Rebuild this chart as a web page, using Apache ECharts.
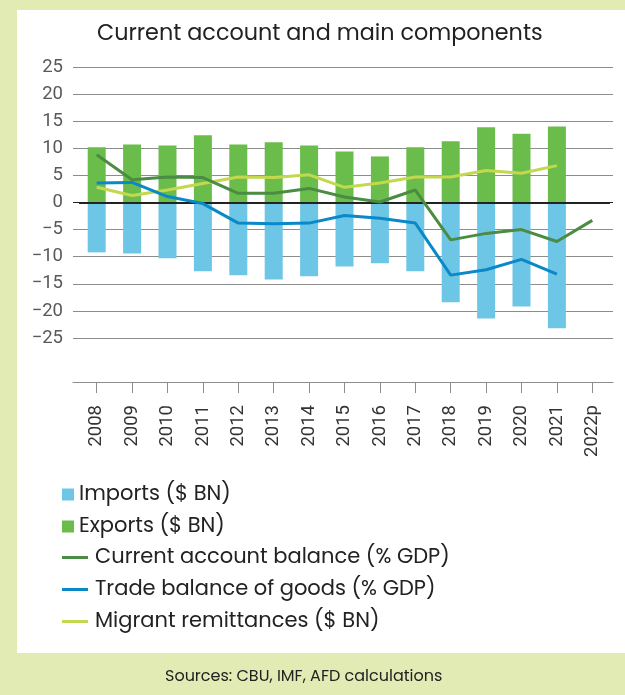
<!DOCTYPE html>
<html>
<head>
<meta charset="utf-8">
<script src="https://cdn.jsdelivr.net/npm/echarts@6/dist/echarts.min.js"></script>
<style>
html,body{margin:0;padding:0;background:#e3ebb4;}
#c{width:625px;height:695px;}
</style>
</head>
<body>
<div id="c"></div>
<script>
var years = ['2008','2009','2010','2011','2012','2013','2014','2015','2016','2017','2018','2019','2020','2021','2022p'];
var imports = [-9.2,-9.4,-10.3,-12.7,-13.4,-14.2,-13.6,-11.8,-11.2,-12.7,-18.4,-21.4,-19.2,-23.2,null];
var exportsV = [10.2,10.7,10.5,12.4,10.7,11.1,10.5,9.4,8.5,10.2,11.3,13.9,12.7,14.0,null];
var currentAccount = [8.8,4.2,4.7,4.6,1.7,1.7,2.6,1.0,0.1,2.3,-6.9,-5.7,-5.0,-7.2,-3.3];
var tradeBalance = [3.6,3.7,1.1,-0.2,-3.8,-3.9,-3.8,-2.4,-2.9,-3.8,-13.4,-12.4,-10.5,-13.2,null];
var remittances = [2.8,1.3,2.3,3.5,4.7,4.6,5.1,2.8,3.6,4.7,4.7,5.9,5.4,6.8,null];
var yTicks = {min:-25, max:25, interval:5};

var FONT = 'Poppins, "Open Sans", sans-serif';
var gridColors = [];
for (var v = yTicks.min; v <= yTicks.max; v += yTicks.interval) gridColors.push(v === 0 ? '#222222' : '#8c8c8c');

var chart = echarts.init(document.getElementById('c'), null, {renderer:'canvas'});
chart.setOption({
  backgroundColor: '#e3ebb4',
  animation: false,
  graphic: [{type:'rect', shape:{x:17, y:10, width:608, height:643}, style:{fill:'#ffffff'}, z:-10, silent:true}],
  title: [
    {text:'Current account and main components', left:92, top:18, textStyle:{fontFamily:FONT, fontSize:22.3, fontWeight:'normal', color:'#222'}},
    {text:'Sources: CBU, IMF, AFD calculations', left:160, top:664, textStyle:{fontFamily:FONT, fontSize:16, fontWeight:'normal', color:'#222'}}
  ],
  legend: [
    {data:['Imports ($ BN)','Exports ($ BN)'], orient:'vertical', left:57, top:479, icon:'rect', itemWidth:12, itemHeight:12, itemGap:11,
     textStyle:{fontFamily:FONT, fontSize:21, color:'#222', lineHeight:21}},
    {data:['Current account balance (% GDP)','Trade balance of goods (% GDP)','Migrant remittances ($ BN)'], orient:'vertical', left:57, top:542, icon:'rect', itemWidth:26, itemHeight:3, itemGap:11,
     textStyle:{fontFamily:FONT, fontSize:21, color:'#222', lineHeight:21, padding:[0,0,0,2]}}
  ],
  grid: [
    {left:73, width:540, top:67, height:271},
    {left:79, right:15, top:67, height:271}
  ],
  xAxis: [
    {type:'value', gridIndex:0, min:0, max:1, offset:44,
     axisLine:{show:true, onZero:false, lineStyle:{color:'#8c8c8c', width:1}}, axisTick:{show:false}, axisLabel:{show:false}, splitLine:{show:false}},
    {type:'category', gridIndex:1, data:years, offset:44, boundaryGap:true,
     axisLine:{show:false, onZero:false}, axisTick:{show:true, alignWithLabel:true, length:11, lineStyle:{color:'#8c8c8c'}},
     axisLabel:{rotate:90, margin:23, fontFamily:'Roboto, sans-serif', fontSize:18.5, color:'#333'}}
  ],
  yAxis: [
    {type:'value', gridIndex:0, min:yTicks.min, max:yTicks.max, interval:yTicks.interval,
     axisLine:{show:false}, axisTick:{show:false},
     axisLabel:{margin:10, fontFamily:'Roboto, sans-serif', fontSize:18.5, color:'#595959', formatter:function(v){return String(v).replace('-','\u2212');}},
     splitLine:{show:true, lineStyle:{color:gridColors, width:1}}},
    {type:'value', gridIndex:1, min:yTicks.min, max:yTicks.max, show:false, splitLine:{show:false}}
  ],
  series: [
    {name:'Imports ($ BN)', type:'bar', xAxisIndex:1, yAxisIndex:1, data:imports, barWidth:18, barGap:'-100%', itemStyle:{color:'#6ec6e6'},
     markLine:{silent:true, symbol:['none','none'], label:{show:false}, lineStyle:{color:'#222', width:2, type:'solid'}, data:[{yAxis:0}]}},
    {name:'Exports ($ BN)', type:'bar', xAxisIndex:1, yAxisIndex:1, data:exportsV, barWidth:18, barGap:'-100%', itemStyle:{color:'#6abd4b'}},
    {name:'Current account balance (% GDP)', type:'line', xAxisIndex:1, yAxisIndex:1, data:currentAccount, symbol:'none', lineStyle:{color:'#4a8c42', width:3}, itemStyle:{color:'#4a8c42'}, z:5},
    {name:'Trade balance of goods (% GDP)', type:'line', xAxisIndex:1, yAxisIndex:1, data:tradeBalance, symbol:'none', lineStyle:{color:'#0a88c8', width:3}, itemStyle:{color:'#0a88c8'}, z:5},
    {name:'Migrant remittances ($ BN)', type:'line', xAxisIndex:1, yAxisIndex:1, data:remittances, symbol:'none', lineStyle:{color:'#c3d84e', width:3}, itemStyle:{color:'#c3d84e'}, z:4}
  ]
});
</script>
</body>
</html>
